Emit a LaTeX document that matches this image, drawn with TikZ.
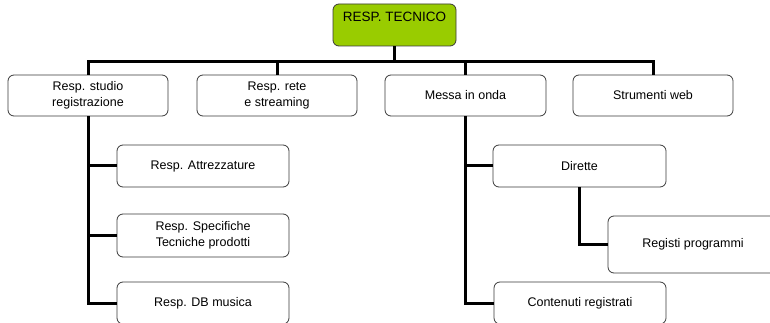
\documentclass[tikz,border=0pt]{standalone}
\usepackage{fontspec}
\setmainfont{Liberation Sans}
\definecolor{titlegreen}{HTML}{99CC00}
\definecolor{boxline}{HTML}{3A3A3A}
\tikzset{
  orgbox/.style={draw=boxline, line width=0.8pt, rounded corners=6pt, fill=white,
    align=center, inner sep=0pt, font=\fontsize{12.5}{15.5}\selectfont},
  titlebox/.style={orgbox, fill=titlegreen, minimum width=123pt,
    text height=14pt, text depth=20pt, inner ysep=4pt, font=\fontsize{13.5}{16}\selectfont},
  conn/.style={line width=3pt, black, line join=miter}
}
\begin{document}
\begin{tikzpicture}[x=1pt,y=-1pt]
\useasboundingbox (0,0) rectangle (770,323);
\clip (0,0) rectangle (770,323);
\fill[white] (0,0) rectangle (770,323);
% nodes
\node[titlebox] (t) at (394.5,25) {RESP. TECNICO};
\node[orgbox, minimum width=160pt, minimum height=41pt] (b1) at (88,95.5) {Resp. studio\\registrazione};
\node[orgbox, minimum width=160pt, minimum height=41pt] (b2) at (277,95.5) {Resp. rete\\e streaming};
\node[orgbox, minimum width=161pt, minimum height=41pt] (b3) at (465.5,95.5) {Messa in onda};
\node[orgbox, minimum width=160pt, minimum height=41pt] (b4) at (653,95.5) {Strumenti web};
\node[orgbox, minimum width=172pt, minimum height=42pt] (c1) at (203,166) {Resp. Attrezzature};
\node[orgbox, minimum width=172pt, minimum height=43pt] (c2) at (203,235.5) {Resp. Specifiche\\Tecniche prodotti};
\node[orgbox, minimum width=172pt, minimum height=42pt] (c3) at (203,303) {Resp. DB musica};
\node[orgbox, minimum width=173pt, minimum height=42pt] (d1) at (579.5,166) {Dirette};
\node[orgbox, minimum width=172pt, minimum height=42pt] (d3) at (580,303) {Contenuti registrati};
\node[orgbox, minimum width=170pt, minimum height=57pt] (d2) at (693,244.5) {Registi programmi};
% connectors
\coordinate (bus) at (0,62);
\draw[conn] (b1.north) -- (b1.north |- bus) -- (b4.north |- bus) -- (b4.north);
\draw[conn] (t.south) -- (t.south |- bus);
\draw[conn] (b2.north) -- (b2.north |- bus);
\draw[conn] (b3.north) -- (b3.north |- bus);
\draw[conn] (b1.south) |- (c3.west);
\draw[conn] (b1.south |- c1.west) -- (c1.west);
\draw[conn] (b1.south |- c2.west) -- (c2.west);
\draw[conn] (b3.south) |- (d3.west);
\draw[conn] (b3.south |- d1.west) -- (d1.west);
\draw[conn] (d1.south) |- (d2.west);
\end{tikzpicture}
\end{document}
